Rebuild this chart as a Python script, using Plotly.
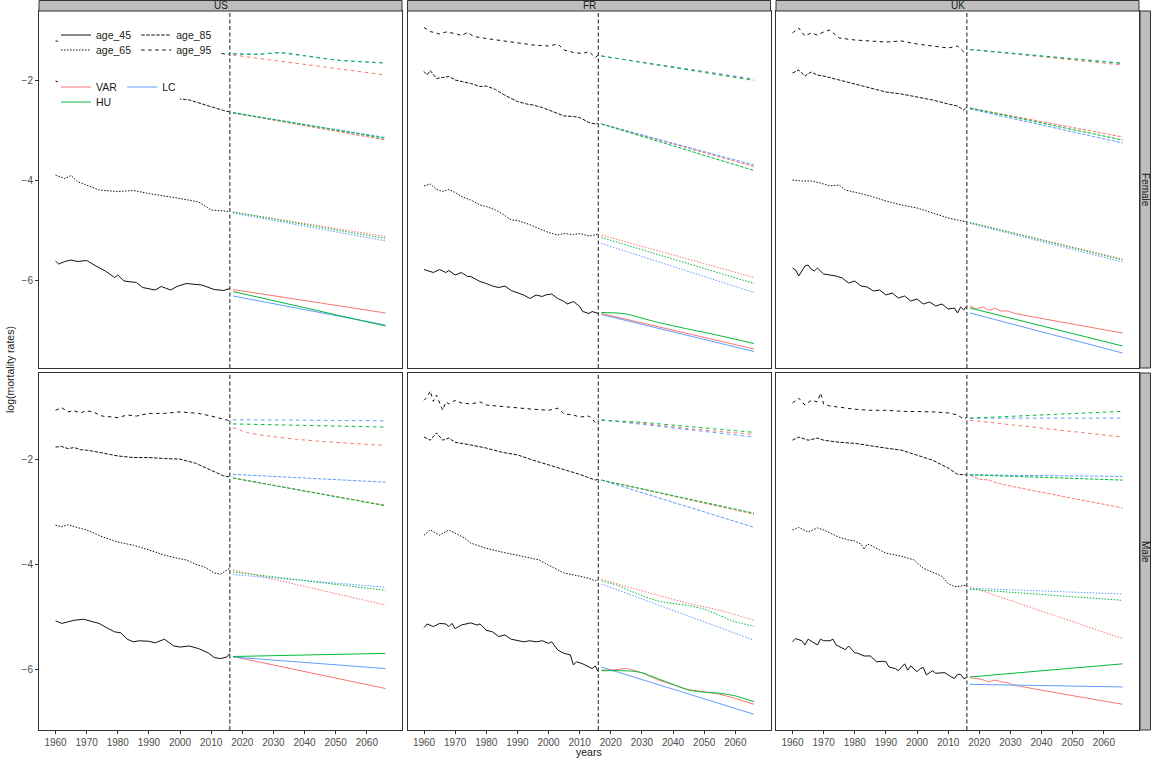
import plotly.graph_objects as go

# ---------------- categories / ticks ----------------
COUNTRIES = ["US", "FR", "UK"]
SEXES = ["Female", "Male"]
AGES = ["age_45", "age_65", "age_85", "age_95"]
MODELS = ["VAR", "LC", "HU"]
X_TICKS = [1960, 1970, 1980, 1990, 2000, 2010, 2020, 2030, 2040, 2050, 2060]
Y_TICKS = [-2, -4, -6]
LAST_OBS_YEAR = 2016
FC_SPAN = [2017, 2066]
X_TITLE = "years"
Y_TITLE = "log(mortality rates)"

# ---------------- observed log mortality rates ----------------
# US Female
US_F_45_YR = [1960, 1961, 1963, 1965, 1967, 1970, 1973, 1976, 1979, 1980, 1982, 1986, 1988, 1992, 1994, 1997, 1999, 2002, 2007, 2011, 2014, 2016]
US_F_45 = [-5.62, -5.68, -5.63, -5.60, -5.63, -5.61, -5.72, -5.82, -5.95, -5.90, -6.02, -6.05, -6.15, -6.20, -6.13, -6.20, -6.13, -6.07, -6.10, -6.19, -6.21, -6.17]
US_F_65_YR = [1960, 1963, 1965, 1967, 1974, 1980, 1985, 1990, 2000, 2006, 2010, 2016]
US_F_65 = [-3.90, -3.97, -3.91, -4.03, -4.20, -4.23, -4.21, -4.27, -4.37, -4.44, -4.60, -4.63]
US_F_85_YR = [1960, 1965, 1970, 1975, 1980, 1986, 1988, 1991, 1995, 2000, 2003, 2007, 2011, 2014, 2016]
US_F_85 = [-2.02, -2.12, -2.20, -2.27, -2.33, -2.37, -2.40, -2.43, -2.42, -2.38, -2.40, -2.48, -2.56, -2.61, -2.64]
US_F_95_YR = [1960, 1965, 1970, 1975, 1980, 1985, 1990, 1994, 1997, 2001, 2004, 2007, 2010, 2012, 2015, 2016]
US_F_95 = [-1.22, -1.25, -1.28, -1.30, -1.33, -1.35, -1.37, -1.40, -1.40, -1.31, -1.33, -1.38, -1.41, -1.45, -1.49, -1.48]
# FR Female
FR_F_45_YR = [1960, 1962, 1963, 1965, 1967, 1968, 1970, 1972, 1974, 1975, 1978, 1980, 1982, 1984, 1986, 1988, 1990, 1992, 1994, 1996, 1998, 1999, 2001, 2003, 2005, 2006, 2008, 2010, 2011, 2013, 2014, 2016]
FR_F_45 = [-5.79, -5.83, -5.85, -5.79, -5.85, -5.81, -5.90, -5.85, -5.93, -5.93, -6.03, -6.07, -6.12, -6.15, -6.12, -6.21, -6.25, -6.30, -6.37, -6.30, -6.33, -6.30, -6.28, -6.37, -6.43, -6.48, -6.43, -6.53, -6.63, -6.67, -6.63, -6.67]
FR_F_65_YR = [1960, 1962, 1964, 1966, 1968, 1970, 1972, 1975, 1978, 1980, 1983, 1985, 1988, 1990, 1993, 1995, 1998, 2000, 2003, 2005, 2008, 2010, 2013, 2015, 2016]
FR_F_65 = [-4.12, -4.08, -4.19, -4.23, -4.19, -4.25, -4.33, -4.40, -4.50, -4.53, -4.60, -4.67, -4.80, -4.81, -4.87, -4.92, -5.00, -5.05, -5.10, -5.07, -5.09, -5.07, -5.12, -5.10, -5.07]
FR_F_85_YR = [1960, 1961, 1962, 1964, 1966, 1968, 1970, 1975, 1978, 1980, 1983, 1985, 1988, 1990, 1993, 1995, 1998, 2000, 2003, 2005, 2008, 2010, 2013, 2015, 2016]
FR_F_85 = [-1.83, -1.90, -1.81, -1.97, -1.95, -1.93, -2.00, -2.07, -2.13, -2.12, -2.19, -2.27, -2.37, -2.43, -2.48, -2.50, -2.55, -2.60, -2.67, -2.72, -2.73, -2.75, -2.85, -2.88, -2.87]
FR_F_95_YR = [1960, 1962, 1965, 1967, 1970, 1972, 1974, 1976, 1980, 1985, 1990, 1995, 2000, 2003, 2005, 2008, 2011, 2013, 2015, 2016]
FR_F_95 = [-0.95, -1.03, -1.08, -1.04, -1.07, -1.11, -1.05, -1.13, -1.17, -1.21, -1.25, -1.30, -1.32, -1.28, -1.40, -1.45, -1.47, -1.43, -1.55, -1.50]
# UK Female
UK_F_45_YR = [1960, 1961, 1962, 1963, 1964, 1965, 1966, 1967, 1968, 1970, 1972, 1974, 1976, 1978, 1980, 1982, 1984, 1986, 1988, 1990, 1992, 1994, 1996, 1998, 2000, 2002, 2004, 2006, 2008, 2010, 2012, 2013, 2014, 2015, 2016]
UK_F_45 = [-5.76, -5.80, -5.92, -5.82, -5.72, -5.70, -5.78, -5.82, -5.76, -5.88, -5.90, -5.92, -5.96, -6.06, -6.02, -6.12, -6.14, -6.22, -6.20, -6.30, -6.26, -6.36, -6.32, -6.42, -6.38, -6.48, -6.44, -6.52, -6.48, -6.58, -6.56, -6.66, -6.54, -6.60, -6.52]
UK_F_65_YR = [1960, 1963, 1966, 1969, 1972, 1975, 1977, 1980, 1985, 1990, 1995, 2000, 2005, 2010, 2013, 2016]
UK_F_65 = [-4.00, -4.02, -4.02, -4.06, -4.12, -4.10, -4.20, -4.24, -4.32, -4.42, -4.50, -4.56, -4.66, -4.76, -4.80, -4.84]
UK_F_85_YR = [1960, 1962, 1964, 1966, 1968, 1970, 1975, 1980, 1985, 1990, 1995, 2000, 2005, 2010, 2013, 2015, 2016]
UK_F_85 = [-1.86, -1.80, -1.92, -1.84, -1.90, -1.92, -2.00, -2.08, -2.16, -2.24, -2.28, -2.34, -2.40, -2.48, -2.52, -2.60, -2.54]
UK_F_95_YR = [1960, 1962, 1964, 1966, 1968, 1970, 1972, 1975, 1980, 1985, 1990, 1995, 2000, 2005, 2010, 2013, 2015, 2016]
UK_F_95 = [-1.06, -0.96, -1.12, -1.06, -1.10, -1.04, -1.00, -1.16, -1.20, -1.22, -1.24, -1.22, -1.28, -1.32, -1.36, -1.32, -1.44, -1.38]
# US Male
US_M_45_YR = [1960, 1962, 1964, 1966, 1969, 1972, 1974, 1977, 1979, 1981, 1983, 1985, 1987, 1990, 1992, 1995, 1998, 2000, 2003, 2006, 2009, 2011, 2013, 2015, 2016]
US_M_45 = [-5.08, -5.13, -5.10, -5.07, -5.05, -5.09, -5.13, -5.23, -5.29, -5.31, -5.43, -5.48, -5.46, -5.47, -5.50, -5.43, -5.56, -5.58, -5.56, -5.61, -5.69, -5.78, -5.80, -5.77, -5.70]
US_M_65_YR = [1960, 1962, 1964, 1966, 1968, 1970, 1975, 1980, 1985, 1990, 1995, 2000, 2002, 2005, 2008, 2011, 2013, 2016]
US_M_65 = [-3.26, -3.29, -3.25, -3.29, -3.32, -3.35, -3.48, -3.58, -3.64, -3.73, -3.83, -3.90, -3.92, -4.00, -4.06, -4.17, -4.19, -4.08]
US_M_85_YR = [1960, 1962, 1964, 1966, 1968, 1970, 1973, 1975, 1978, 1980, 1985, 1990, 1995, 2000, 2005, 2008, 2011, 2014, 2016]
US_M_85 = [-1.77, -1.76, -1.80, -1.78, -1.82, -1.83, -1.86, -1.88, -1.92, -1.94, -1.97, -1.97, -1.99, -2.00, -2.08, -2.16, -2.24, -2.32, -2.34]
US_M_95_YR = [1960, 1962, 1964, 1966, 1968, 1970, 1972, 1975, 1977, 1980, 1983, 1986, 1990, 1995, 2000, 2003, 2006, 2010, 2013, 2016]
US_M_95 = [-1.07, -1.02, -1.10, -1.08, -1.12, -1.08, -1.10, -1.18, -1.19, -1.21, -1.16, -1.18, -1.13, -1.13, -1.10, -1.12, -1.13, -1.18, -1.22, -1.27]
# FR Male
FR_M_45_YR = [1960, 1961, 1963, 1965, 1967, 1968, 1969, 1970, 1972, 1975, 1977, 1978, 1980, 1982, 1984, 1986, 1988, 1990, 1992, 1994, 1996, 1998, 2000, 2001, 2003, 2005, 2007, 2008, 2009, 2011, 2013, 2014, 2015, 2016]
FR_M_45 = [-5.21, -5.14, -5.19, -5.13, -5.14, -5.19, -5.13, -5.23, -5.16, -5.12, -5.16, -5.14, -5.26, -5.29, -5.38, -5.35, -5.43, -5.45, -5.48, -5.46, -5.48, -5.46, -5.51, -5.48, -5.64, -5.70, -5.73, -5.92, -5.86, -5.90, -5.97, -5.99, -5.94, -6.05]
FR_M_65_YR = [1960, 1962, 1965, 1968, 1970, 1973, 1975, 1980, 1985, 1990, 1995, 1997, 2000, 2005, 2010, 2013, 2015, 2016]
FR_M_65 = [-3.45, -3.35, -3.45, -3.35, -3.41, -3.50, -3.60, -3.70, -3.77, -3.83, -3.89, -3.92, -4.02, -4.17, -4.23, -4.27, -4.32, -4.29]
FR_M_85_YR = [1960, 1962, 1964, 1966, 1968, 1970, 1975, 1980, 1985, 1990, 1995, 2000, 2005, 2010, 2015, 2016]
FR_M_85 = [-1.58, -1.64, -1.50, -1.64, -1.60, -1.68, -1.73, -1.79, -1.87, -1.92, -2.02, -2.11, -2.21, -2.29, -2.40, -2.38]
FR_M_95_YR = [1960, 1961, 1962, 1963, 1964, 1966, 1967, 1968, 1970, 1972, 1975, 1978, 1980, 1985, 1990, 1995, 2000, 2003, 2005, 2008, 2010, 2013, 2015, 2016]
FR_M_95 = [-0.88, -0.82, -0.70, -0.90, -0.78, -1.07, -0.91, -0.95, -0.88, -0.93, -0.95, -0.91, -0.97, -1.00, -1.03, -1.05, -1.07, -1.03, -1.14, -1.16, -1.20, -1.18, -1.30, -1.24]
# UK Male
UK_M_45_YR = [1960, 1961, 1963, 1964, 1965, 1967, 1968, 1969, 1970, 1972, 1973, 1974, 1976, 1977, 1978, 1979, 1980, 1981, 1983, 1985, 1987, 1989, 1990, 1991, 1993, 1994, 1996, 1997, 1998, 2000, 2001, 2002, 2003, 2005, 2006, 2008, 2009, 2011, 2012, 2013, 2014, 2015, 2016]
UK_M_45 = [-5.48, -5.42, -5.46, -5.54, -5.43, -5.50, -5.54, -5.43, -5.46, -5.46, -5.43, -5.54, -5.59, -5.63, -5.56, -5.63, -5.69, -5.70, -5.75, -5.75, -5.86, -5.85, -5.86, -5.96, -5.99, -6.03, -5.90, -6.02, -5.94, -6.05, -5.99, -5.97, -6.11, -6.03, -6.08, -6.07, -6.07, -6.15, -6.18, -6.10, -6.10, -6.18, -6.16]
UK_M_65_YR = [1960, 1962, 1965, 1968, 1970, 1972, 1975, 1978, 1980, 1982, 1983, 1984, 1985, 1988, 1990, 1995, 1999, 2002, 2005, 2008, 2010, 2012, 2014, 2016]
UK_M_65 = [-3.35, -3.30, -3.39, -3.31, -3.35, -3.41, -3.49, -3.54, -3.56, -3.62, -3.72, -3.62, -3.64, -3.73, -3.79, -3.85, -3.92, -4.08, -4.15, -4.23, -4.37, -4.43, -4.42, -4.40]
UK_M_85_YR = [1960, 1962, 1965, 1968, 1970, 1975, 1980, 1985, 1990, 1995, 2000, 2005, 2010, 2013, 2016]
UK_M_85 = [-1.64, -1.58, -1.64, -1.60, -1.64, -1.68, -1.70, -1.75, -1.79, -1.83, -1.92, -2.02, -2.17, -2.29, -2.30]
UK_M_95_YR = [1960, 1962, 1964, 1966, 1968, 1969, 1970, 1972, 1975, 1980, 1985, 1990, 1995, 2000, 2005, 2010, 2013, 2015, 2016]
UK_M_95 = [-0.93, -0.84, -0.97, -0.88, -0.91, -0.74, -0.95, -0.99, -1.01, -1.05, -1.07, -1.07, -1.09, -1.09, -1.10, -1.12, -1.16, -1.24, -1.20]

# ---------------- forecasts (years = FC_SPAN unless a *_YR list is given) ----------------
US_F_45_VAR = [-6.19, -6.66]; US_F_45_LC = [-6.32, -6.90]; US_F_45_HU = [-6.23, -6.92]
US_F_65_VAR = [-4.64, -5.13]; US_F_65_LC = [-4.66, -5.22]; US_F_65_HU = [-4.64, -5.17]
US_F_85_VAR = [-2.66, -3.20]; US_F_85_LC = [-2.66, -3.15]; US_F_85_HU = [-2.65, -3.17]
US_F_95_VAR = [-1.50, -1.90]
US_F_95_LC_YR = [2017, 2025, 2032, 2040, 2050, 2066]
US_F_95_LC = [-1.47, -1.48, -1.46, -1.52, -1.60, -1.66]
US_F_95_HU_YR = [2017, 2025, 2032, 2040, 2050, 2066]
US_F_95_HU = [-1.48, -1.49, -1.45, -1.51, -1.60, -1.66]

FR_F_45_VAR = [-6.67, -7.38]; FR_F_45_LC = [-6.69, -7.43]
FR_F_45_HU_YR = [2017, 2022, 2025, 2034, 2044, 2054, 2066]
FR_F_45_HU = [-6.65, -6.66, -6.68, -6.83, -6.97, -7.10, -7.27]
FR_F_65_VAR = [-5.10, -5.95]; FR_F_65_LC = [-5.27, -6.25]; FR_F_65_HU = [-5.15, -6.07]
FR_F_85_VAR = [-2.88, -3.73]; FR_F_85_LC = [-2.88, -3.70]; FR_F_85_HU = [-2.88, -3.81]
FR_F_95_VAR = [-1.52, -1.99]; FR_F_95_LC = [-1.52, -1.98]; FR_F_95_HU = [-1.52, -2.01]

UK_F_45_VAR_YR = [2017, 2019, 2021, 2023, 2025, 2027, 2029, 2031, 2066]
UK_F_45_VAR = [-6.52, -6.58, -6.54, -6.60, -6.57, -6.62, -6.62, -6.66, -7.06]
UK_F_45_LC = [-6.66, -7.46]; UK_F_45_HU = [-6.56, -7.32]
UK_F_65_VAR = [-4.85, -5.58]; UK_F_65_LC = [-4.87, -5.64]; UK_F_65_HU = [-4.85, -5.60]
UK_F_85_VAR = [-2.56, -3.14]; UK_F_85_LC = [-2.58, -3.26]; UK_F_85_HU = [-2.56, -3.20]
UK_F_95_VAR = [-1.39, -1.70]; UK_F_95_LC = [-1.39, -1.66]; UK_F_95_HU = [-1.39, -1.67]

US_M_45_VAR = [-5.76, -6.37]; US_M_45_LC = [-5.77, -5.99]; US_M_45_HU = [-5.76, -5.70]
US_M_65_VAR = [-4.11, -4.78]; US_M_65_LC = [-4.20, -4.44]; US_M_65_HU = [-4.15, -4.50]
US_M_85_VAR = [-2.36, -2.88]; US_M_85_LC = [-2.29, -2.44]; US_M_85_HU = [-2.36, -2.89]
US_M_95_VAR_YR = [2017, 2022, 2027, 2037, 2047, 2066]
US_M_95_VAR = [-1.40, -1.50, -1.55, -1.62, -1.67, -1.74]
US_M_95_LC = [-1.25, -1.27]; US_M_95_HU = [-1.33, -1.39]

FR_M_45_VAR_YR = [2017, 2022, 2025, 2030, 2035, 2040, 2045, 2050, 2055, 2060, 2066]
FR_M_45_VAR = [-6.02, -6.01, -5.99, -6.07, -6.20, -6.30, -6.39, -6.43, -6.48, -6.56, -6.67]
FR_M_45_HU_YR = [2017, 2022, 2027, 2030, 2035, 2040, 2045, 2050, 2055, 2060, 2066]
FR_M_45_HU = [-6.03, -6.03, -6.04, -6.07, -6.18, -6.29, -6.40, -6.44, -6.46, -6.51, -6.62]
FR_M_45_LC = [-5.96, -6.86]
FR_M_65_VAR_YR = [2017, 2027, 2035, 2045, 2055, 2066]
FR_M_65_VAR = [-4.29, -4.46, -4.59, -4.75, -4.88, -5.07]
FR_M_65_HU_YR = [2017, 2022, 2027, 2035, 2040, 2045, 2050, 2055, 2060, 2066]
FR_M_65_HU = [-4.32, -4.40, -4.53, -4.70, -4.75, -4.79, -4.86, -4.98, -5.10, -5.18]
FR_M_65_LC = [-4.38, -5.45]
FR_M_85_VAR = [-2.40, -3.05]; FR_M_85_LC = [-2.40, -3.30]; FR_M_85_HU = [-2.40, -3.03]
FR_M_95_VAR_YR = [2017, 2030, 2045, 2066]
FR_M_95_VAR = [-1.26, -1.32, -1.42, -1.53]
FR_M_95_HU_YR = [2017, 2030, 2045, 2066]
FR_M_95_HU = [-1.26, -1.30, -1.38, -1.49]
FR_M_95_LC = [-1.25, -1.58]

UK_M_45_VAR_YR = [2017, 2019, 2021, 2023, 2025, 2027, 2029, 2031, 2066]
UK_M_45_VAR = [-6.16, -6.18, -6.20, -6.24, -6.21, -6.24, -6.26, -6.30, -6.67]
UK_M_45_LC = [-6.29, -6.34]; UK_M_45_HU = [-6.15, -5.90]
UK_M_65_VAR = [-4.43, -5.42]; UK_M_65_LC = [-4.46, -4.57]; UK_M_65_HU = [-4.48, -4.69]
UK_M_85_VAR_YR = [2017, 2020, 2023, 2026, 2066]
UK_M_85_VAR = [-2.30, -2.38, -2.40, -2.46, -2.93]
UK_M_85_LC = [-2.30, -2.33]; UK_M_85_HU = [-2.30, -2.40]
UK_M_95_VAR = [-1.26, -1.58]; UK_M_95_LC = [-1.22, -1.22]; UK_M_95_HU = [-1.22, -1.09]

# ---------------- styling ----------------
W, H = 1151, 762
FONT = "Liberation Sans, Arial, Helvetica, sans-serif"
COLORS = {"VAR": "#F8766D", "LC": "#619CFF", "HU": "#00BA38"}
DASHES = {"age_45": "solid", "age_65": "1.5px,1.5px", "age_85": "3.5px,1.5px", "age_95": "3.5px,3.5px"}
COL_PX = [(39, 402), (407.5, 770.5), (776, 1139)]
ROW_PX = [(11, 368), (373, 730)]
Y_RANGES = [[-7.76, -0.62], [-7.16, -0.36]]
X_RANGE = [1954.7, 2071.3]
AXIS_COL = "#333333"
TICK_FONT = dict(family=FONT, size=10, color="#4D4D4D")
STRIP_FILL = "#BEBEBE"


def fx(px):
    return px / W


def fy(px):
    return 1 - px / H


def get_series(key, default_years=None):
    vals = globals()[key]
    yrs = globals().get(key + "_YR", default_years)
    return yrs, vals


fig = go.Figure()
layout = dict(
    width=W, height=H, margin=dict(l=0, r=0, t=0, b=0),
    paper_bgcolor="white", plot_bgcolor="white",
    font=dict(family=FONT, color="#1A1A1A"),
    showlegend=True, hovermode=False,
)
shapes, annotations = [], []

for r, sex in enumerate(SEXES):
    for c, ctry in enumerate(COUNTRIES):
        n = r * 3 + c + 1
        xa = "x" if n == 1 else f"x{n}"
        ya = "y" if n == 1 else f"y{n}"
        # observed
        for age in AGES:
            yrs, vals = get_series(f"{ctry}_{sex[0]}_{age[-2:]}")
            fig.add_trace(go.Scatter(
                x=yrs, y=vals, mode="lines", xaxis=xa, yaxis=ya, showlegend=False,
                line=dict(color="#111111", width=1, dash=DASHES[age]), hoverinfo="skip"))
        # forecasts
        for m in MODELS:
            for age in AGES:
                yrs, vals = get_series(f"{ctry}_{sex[0]}_{age[-2:]}_{m}", FC_SPAN)
                fig.add_trace(go.Scatter(
                    x=yrs, y=vals, mode="lines", xaxis=xa, yaxis=ya, showlegend=False,
                    line=dict(color=COLORS[m], width=1, dash=DASHES[age], shape="spline",
                              smoothing=0.6), hoverinfo="skip"))
        x0, x1 = COL_PX[c]
        y0, y1 = ROW_PX[r]
        layout["xaxis" if n == 1 else f"xaxis{n}"] = dict(
            domain=[fx(x0), fx(x1)], range=X_RANGE, anchor=ya,
            showline=True, mirror=True, linecolor=AXIS_COL, linewidth=1,
            showgrid=False, zeroline=False, tickmode="array", tickvals=X_TICKS,
            ticks="outside" if r == 1 else "", ticklen=3, tickcolor=AXIS_COL,
            showticklabels=(r == 1), tickfont=TICK_FONT,
        )
        layout["yaxis" if n == 1 else f"yaxis{n}"] = dict(
            domain=[fy(y1), fy(y0)], range=Y_RANGES[r], anchor=xa,
            showline=True, mirror=True, linecolor=AXIS_COL, linewidth=1,
            showgrid=False, zeroline=False, tickmode="array", tickvals=Y_TICKS,
            ticks="outside" if c == 0 else "", ticklen=3, tickcolor=AXIS_COL,
            showticklabels=(c == 0), tickfont=TICK_FONT,
        )
        # last observed year marker
        shapes.append(dict(type="line", xref=xa, yref=f"{ya} domain",
                           x0=LAST_OBS_YEAR, x1=LAST_OBS_YEAR, y0=0, y1=1,
                           line=dict(color="#4D4D4D", width=1.3, dash="4px,2.5px"), layer="above"))

# facet strips (columns)
for c, ctry in enumerate(COUNTRIES):
    x0, x1 = COL_PX[c]
    shapes.append(dict(type="rect", xref="paper", yref="paper", x0=fx(x0), x1=fx(x1),
                       y0=fy(11), y1=fy(0.5), fillcolor=STRIP_FILL,
                       line=dict(color=AXIS_COL, width=1), layer="above"))
    annotations.append(dict(text=ctry, xref="paper", yref="paper", x=fx((x0 + x1) / 2),
                            y=fy(5.8), showarrow=False, xanchor="center", yanchor="middle",
                            font=dict(size=10, color="#1A1A1A", family=FONT)))
# facet strips (rows)
for r, sex in enumerate(SEXES):
    y0, y1 = ROW_PX[r]
    shapes.append(dict(type="rect", xref="paper", yref="paper", x0=fx(1140), x1=fx(1150.5),
                       y0=fy(y1), y1=fy(y0), fillcolor=STRIP_FILL,
                       line=dict(color=AXIS_COL, width=1), layer="above"))
    annotations.append(dict(text=sex, xref="paper", yref="paper", x=fx(1145.5),
                            y=fy((y0 + y1) / 2), showarrow=False, textangle=90,
                            xanchor="center", yanchor="middle",
                            font=dict(size=10, color="#1A1A1A", family=FONT)))

# axis titles
annotations.append(dict(text=X_TITLE, xref="paper", yref="paper", x=fx(589), y=fy(752),
                        showarrow=False, xanchor="center", yanchor="middle",
                        font=dict(size=10.5, color="#1A1A1A", family=FONT)))
annotations.append(dict(text=Y_TITLE, xref="paper", yref="paper", x=fx(10), y=fy(370),
                        showarrow=False, textangle=-90, xanchor="center", yanchor="middle",
                        font=dict(size=10.5, color="#1A1A1A", family=FONT)))

# legend backgrounds (white boxes that hide the lines beneath, as in the original)
shapes.append(dict(type="rect", xref="paper", yref="paper", x0=fx(58), x1=fx(218),
                   y0=fy(59), y1=fy(25), fillcolor="white", line=dict(width=0), layer="above"))
shapes.append(dict(type="rect", xref="paper", yref="paper", x0=fx(58), x1=fx(180),
                   y0=fy(111), y1=fy(76), fillcolor="white", line=dict(width=0), layer="above"))

# legend entries
LEG_ROWS = [("legend", ["age_45", "age_85"], 35), ("legend2", ["age_65", "age_95"], 50)]
for leg, ages, _ in LEG_ROWS:
    for age in ages:
        fig.add_trace(go.Scatter(x=[None], y=[None], mode="lines", name=age, legend=leg,
                                 line=dict(color="#111111", width=1, dash=DASHES[age]),
                                 hoverinfo="skip"))
COL_ROWS = [("legend3", ["VAR", "LC"], 87), ("legend4", ["HU"], 102)]
for leg, models, _ in COL_ROWS:
    for m in models:
        fig.add_trace(go.Scatter(x=[None], y=[None], mode="lines", name=m, legend=leg,
                                 line=dict(color=COLORS[m], width=1), hoverinfo="skip"))

for leg, _, ypx in LEG_ROWS + COL_ROWS:
    layout[leg] = dict(x=fx(56), y=fy(ypx), xanchor="left", yanchor="middle",
                       orientation="h", bgcolor="rgba(0,0,0,0)", borderwidth=0,
                       itemwidth=30, tracegroupgap=0, itemclick=False, itemdoubleclick=False,
                       font=dict(size=10.5, color="#1A1A1A", family=FONT))

layout["shapes"] = shapes
layout["annotations"] = annotations
fig.update_layout(**layout)
fig.write_html(
    "out.html",
    config={"displayModeBar": False, "staticPlot": True},
    post_script="document.body.style.margin='0';document.body.style.overflow='hidden';",
)
